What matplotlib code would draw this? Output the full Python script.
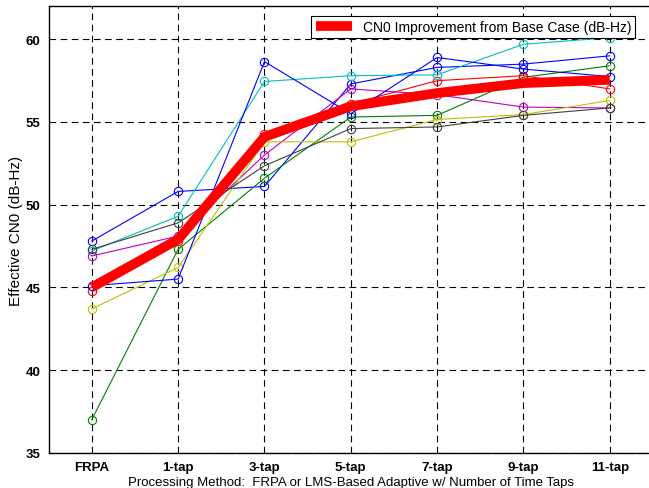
import matplotlib
matplotlib.use("Agg")
import matplotlib.pyplot as plt

plt.rcParams['font.family'] = ['Liberation Sans', 'DejaVu Sans']

categories = ["FRPA", "1-tap", "3-tap", "5-tap", "7-tap", "9-tap", "11-tap"]

blue_a    = [47.8, 50.8, 51.1, 57.3, 58.3, 58.5, 59.0]
green     = [37.0, 47.3, 51.6, 55.3, 55.4, 57.7, 58.4]
red_thin  = [44.8, 47.8, 54.3, 56.1, 57.5, 57.8, 57.0]
cyan      = [47.2, 49.3, 57.45, 57.8, 57.85, 59.7, 60.1]
magenta   = [46.9, 48.1, 53.0, 57.0, 56.65, 55.9, 55.85]
yellow    = [43.7, 46.2, 53.8, 53.8, 55.15, 55.45, 56.3]
gray      = [47.3, 48.9, 52.35, 54.6, 54.7, 55.4, 55.85]
blue_b    = [45.1, 45.5, 58.65, 55.5, 58.9, 58.2, 57.75]
improvement = [45.0, 47.9, 54.1, 55.95, 56.75, 57.35, 57.55]

series = [
    (blue_a, "#0000ff"),
    (green, "#008000"),
    (red_thin, "#ff0000"),
    (cyan, "#00bfbf"),
    (magenta, "#bf00bf"),
    (yellow, "#bfbf00"),
    (gray, "#404040"),
    (blue_b, "#0000ff"),
]

fig = plt.figure(figsize=(6.49, 4.89), dpi=100)
ax = fig.add_axes([0.075, 0.0722, 0.931, 0.913])

x = list(range(1, len(categories) + 1))
for vals, col in series:
    ax.plot(x, vals, color=col, lw=0.8, marker='o', mfc='none', mec=col,
            ms=6, mew=0.8)

ax.plot(x, improvement, color='#ff0000', lw=7, solid_capstyle='butt',
        label="CN0 Improvement from Base Case (dB-Hz)")

ax.set_xlim(0.5, 7.5)
ax.set_ylim(35, 62)
ax.set_xticks(x)
ax.set_xticklabels(categories, fontsize=9.5, fontweight='bold')
ax.set_yticks([35, 40, 45, 50, 55, 60])
ax.set_yticklabels(["35", "40", "45", "50", "55", "60"], fontsize=9.5,
                   fontweight='bold')
ax.tick_params(direction='in', length=0, pad=6)
ax.grid(True, color='black', linestyle=(0, (6, 4)), linewidth=0.8)
for s in ax.spines.values():
    s.set_linewidth(1.0)

ax.set_xlabel("Processing Method:  FRPA or LMS-Based Adaptive w/ Number of Time Taps",
              fontsize=9.5, labelpad=2)
ax.set_ylabel("Effective CN0 (dB-Hz)", fontsize=11, labelpad=2)

leg = ax.legend(loc='upper right', bbox_to_anchor=(0.978, 0.988), fontsize=10,
                fancybox=False, framealpha=1, edgecolor='black',
                handlelength=2.6, borderpad=0.3, borderaxespad=0.3)
leg.get_frame().set_linewidth(0.8)

fig.savefig("out.png", dpi=100)
